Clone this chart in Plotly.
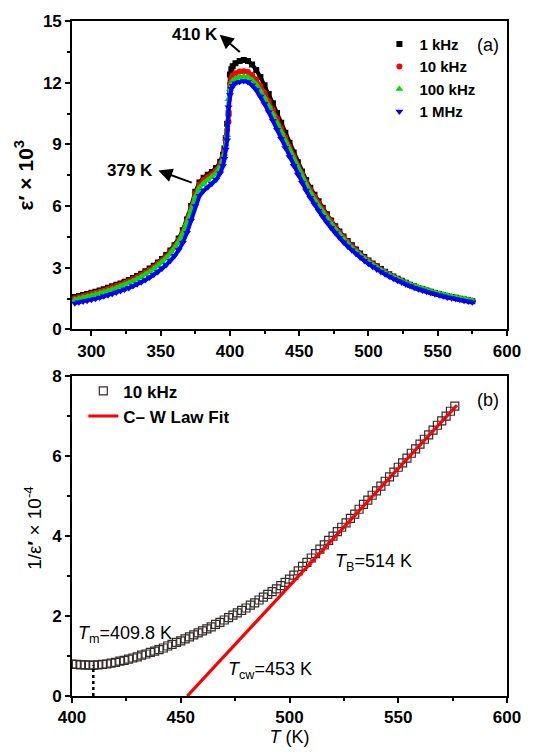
import plotly.graph_objects as go

# ---------------- panel (a): real permittivity vs temperature ----------------
T_a = [288, 291, 294, 297, 300, 303, 306, 309, 312, 315, 318, 321, 324, 327, 330,
       333, 336, 339, 342, 345, 348, 351, 354, 357, 360, 363, 366, 369, 372, 375,
       378, 381, 384, 387, 390, 393,
       395, 396, 397, 398, 399, 400, 401, 402,
       404, 407, 410, 413, 416, 419, 422, 425, 428, 431, 434, 437, 440, 443, 446,
       449, 452, 455, 458, 461, 464, 467, 470, 473, 476, 479, 482, 485, 488, 491,
       494, 497, 500, 503, 506, 509, 512, 515, 518, 521, 524, 527, 530, 533, 536,
       539, 542, 545, 548, 551, 554, 557, 560, 563, 566, 569, 572, 575]

eps_1kHz = [1.58, 1.63, 1.68, 1.73, 1.78, 1.84, 1.90, 1.96, 2.03, 2.10, 2.17, 2.24, 2.32, 2.41, 2.50,
            2.60, 2.71, 2.83, 2.96, 3.10, 3.26, 3.43, 3.62, 3.84, 4.10, 4.42, 4.82, 5.35, 6.00, 6.70,
            7.15, 7.38, 7.52, 7.66, 7.85, 8.15,
            8.50, 8.80, 9.30, 10.00, 10.50, 12.40, 12.65, 12.80,
            12.95, 13.06, 13.10, 13.05, 12.88, 12.62, 12.28, 11.88, 11.45, 11.00, 10.53, 10.05, 9.57, 9.08, 8.60,
            8.13, 7.68, 7.27, 6.89, 6.55, 6.23, 5.92, 5.60, 5.30, 5.02, 4.76, 4.52, 4.30, 4.09, 3.89,
            3.70, 3.52, 3.36, 3.21, 3.07, 2.94, 2.81, 2.69, 2.58, 2.47, 2.37, 2.27, 2.18, 2.10, 2.02,
            1.95, 1.89, 1.83, 1.77, 1.72, 1.67, 1.62, 1.58, 1.54, 1.50, 1.46, 1.42, 1.37]

eps_10kHz = [1.52, 1.57, 1.62, 1.67, 1.72, 1.78, 1.84, 1.90, 1.97, 2.04, 2.11, 2.18, 2.26, 2.35, 2.44,
             2.54, 2.65, 2.77, 2.90, 3.04, 3.20, 3.37, 3.56, 3.78, 4.04, 4.36, 4.76, 5.28, 5.92, 6.60,
             7.05, 7.27, 7.41, 7.55, 7.74, 8.05,
             8.40, 8.70, 9.20, 9.70, 10.10, 11.95, 12.20, 12.35,
             12.46, 12.54, 12.56, 12.52, 12.38, 12.15, 11.85, 11.50, 11.10, 10.68, 10.24, 9.79, 9.34, 8.88, 8.43,
             7.99, 7.57, 7.17, 6.80, 6.46, 6.14, 5.84, 5.54, 5.25, 4.98, 4.72, 4.48, 4.26, 4.05, 3.85,
             3.66, 3.49, 3.33, 3.18, 3.04, 2.91, 2.79, 2.67, 2.56, 2.46, 2.36, 2.27, 2.18, 2.10, 2.02,
             1.95, 1.89, 1.83, 1.77, 1.72, 1.67, 1.62, 1.58, 1.54, 1.50, 1.46, 1.42, 1.38]

eps_100kHz = [1.44, 1.49, 1.54, 1.59, 1.64, 1.70, 1.76, 1.82, 1.88, 1.95, 2.02, 2.09, 2.17, 2.26, 2.35,
              2.45, 2.56, 2.68, 2.81, 2.95, 3.11, 3.28, 3.47, 3.69, 3.95, 4.27, 4.67, 5.18, 5.80, 6.45,
              6.90, 7.12, 7.27, 7.42, 7.60, 7.92,
              8.25, 8.55, 9.00, 9.45, 11.20, 11.70, 11.95, 12.10,
              12.20, 12.28, 12.30, 12.26, 12.13, 11.91, 11.62, 11.27, 10.88, 10.46, 10.03, 9.59, 9.15, 8.70, 8.26,
              7.83, 7.42, 7.03, 6.67, 6.33, 6.02, 5.72, 5.43, 5.15, 4.89, 4.64, 4.41, 4.19, 3.99, 3.80,
              3.62, 3.45, 3.30, 3.15, 3.02, 2.89, 2.77, 2.66, 2.56, 2.46, 2.37, 2.28, 2.20, 2.12, 2.05,
              1.98, 1.92, 1.86, 1.80, 1.75, 1.70, 1.65, 1.61, 1.57, 1.53, 1.49, 1.45, 1.41]

eps_1MHz = [1.28, 1.32, 1.36, 1.40, 1.45, 1.50, 1.55, 1.61, 1.67, 1.73, 1.80, 1.87, 1.94, 2.02, 2.11,
            2.20, 2.30, 2.41, 2.53, 2.66, 2.80, 2.96, 3.14, 3.34, 3.57, 3.86, 4.22, 4.70, 5.30, 6.00,
            6.50, 6.75, 6.92, 7.08, 7.28, 7.60,
            7.95, 8.30, 8.75, 9.20, 10.80, 11.40, 11.70, 11.85,
            11.97, 12.05, 12.08, 12.03, 11.88, 11.64, 11.33, 10.97, 10.57, 10.15, 9.71, 9.27, 8.83, 8.39, 7.96,
            7.54, 7.14, 6.76, 6.41, 6.08, 5.77, 5.48, 5.20, 4.94, 4.69, 4.46, 4.24, 4.04, 3.85, 3.67,
            3.50, 3.34, 3.19, 3.05, 2.92, 2.80, 2.68, 2.57, 2.47, 2.37, 2.28, 2.19, 2.11, 2.03, 1.96,
            1.89, 1.83, 1.77, 1.71, 1.66, 1.61, 1.56, 1.52, 1.48, 1.44, 1.40, 1.36, 1.32]

freq_labels = ["1 kHz", "10 kHz", "100 kHz", "1 MHz"]
freq_colors = ["#000000", "#ff0000", "#00dd00", "#0000ff"]
freq_symbols = ["square", "circle", "triangle-up", "triangle-down"]
freq_sizes = [6, 6, 7, 7]

xticks_a = [300, 350, 400, 450, 500, 550, 600]
yticks_a = [0, 3, 6, 9, 12, 15]
xticks_b = [400, 450, 500, 550, 600]
yticks_b = [0, 2, 4, 6, 8]

# ---------------- panel (b): inverse permittivity at 10 kHz ----------------
T_b = [400, 402, 404, 406, 408, 410, 412, 414, 416, 418, 420, 422, 424, 426, 428,
       430, 432, 434, 436, 438, 440, 442, 444, 446, 448, 450, 452, 454, 456, 458,
       460, 462, 464, 466, 468, 470, 472, 474, 476, 478, 480, 482, 484, 486, 488,
       490, 492, 494, 496, 498, 500, 502, 504, 506, 508, 510, 512, 514, 516, 518,
       520, 522, 524, 526, 528, 530, 532, 534, 536, 538, 540, 542, 544, 546, 548,
       550, 552, 554, 556, 558, 560, 562, 564, 566, 568, 570, 572, 574, 576]
inv_eps_10kHz = [0.80, 0.79, 0.78, 0.78, 0.77, 0.77, 0.78, 0.79, 0.80, 0.82, 0.84, 0.87, 0.89, 0.92, 0.95,
                 0.98, 1.02, 1.05, 1.09, 1.12, 1.16, 1.20, 1.25, 1.29, 1.34, 1.38, 1.43, 1.48, 1.53, 1.58,
                 1.63, 1.68, 1.73, 1.79, 1.84, 1.90, 1.96, 2.02, 2.08, 2.14, 2.20, 2.27, 2.33, 2.40, 2.47,
                 2.54, 2.61, 2.68, 2.76, 2.84, 2.92, 3.02, 3.13, 3.24, 3.34, 3.45, 3.56, 3.67, 3.78, 3.89,
                 4.00, 4.11, 4.22, 4.33, 4.44, 4.55, 4.67, 4.79, 4.90, 5.02, 5.13, 5.25, 5.37, 5.48, 5.60,
                 5.72, 5.83, 5.95, 6.07, 6.18, 6.30, 6.42, 6.53, 6.65, 6.77, 6.88, 7.00, 7.12, 7.25]

T_m = 409.8          # temperature of permittivity maximum
T_cw = 453           # Curie-Weiss temperature
T_B = 514            # Burns temperature
fit_T = [T_cw, 577]
fit_inv = [0.0, 7.27]

FONT = "Liberation Sans, Arial, sans-serif"

fig = go.Figure()

# dense measurement points: a thick trace in the series colour runs under the markers
for lab, col, sym, sz, ys in zip(freq_labels, freq_colors, freq_symbols, freq_sizes,
                                 [eps_1kHz, eps_10kHz, eps_100kHz, eps_1MHz]):
    fig.add_trace(go.Scatter(
        x=T_a, y=ys, mode="lines", showlegend=False, hoverinfo="skip",
        line=dict(color=col, width=4), xaxis="x", yaxis="y"))
    fig.add_trace(go.Scatter(
        x=T_a, y=ys, mode="markers", name=lab, legend="legend",
        marker=dict(symbol=sym, size=sz, color=col, line=dict(width=0)),
        xaxis="x", yaxis="y"))

fig.add_trace(go.Scatter(
    x=T_b, y=inv_eps_10kHz, mode="markers", name="10 kHz", legend="legend2",
    marker=dict(symbol="square-open", size=8, color="#352b2b", line=dict(width=1.2)),
    xaxis="x2", yaxis="y2"))

fig.add_trace(go.Scatter(
    x=fit_T, y=fit_inv, mode="lines", name="C\u2013 W Law Fit", legend="legend2",
    line=dict(color="#ff0000", width=3.2), xaxis="x2", yaxis="y2"))

fig.add_trace(go.Scatter(
    x=[T_m, T_m], y=[0, min(inv_eps_10kHz)], mode="lines", showlegend=False,
    line=dict(color="#000000", width=2.5, dash="dot"), xaxis="x2", yaxis="y2"))


def bold_ticks(vals):
    return dict(tickmode="array", tickvals=vals, ticktext=[f"<b>{v}</b>" for v in vals])


axis_common = dict(showgrid=False, zeroline=False, showline=True, linewidth=1.6,
                   linecolor="black", mirror=True, ticks="outside", ticklen=5,
                   tickwidth=1.6, tickcolor="black",
                   tickfont=dict(family=FONT, size=17, color="black", weight="bold"))


def minor(t0, dt):
    return dict(ticks="outside", ticklen=3, tickwidth=1.6, tick0=t0, dtick=dt,
                tickcolor="black", showgrid=False)


fig.update_layout(
    width=533, height=754,
    paper_bgcolor="white", plot_bgcolor="white",
    margin=dict(l=71.5, r=24, t=18, b=57),
    font=dict(family=FONT, color="black"),
    xaxis=dict(domain=[0, 1], range=[286, 600], anchor="y", minor=minor(300, 25),
               **bold_ticks(xticks_a), **axis_common),
    yaxis=dict(domain=[0.543, 1], range=[0, 15], anchor="x", minor=minor(0, 1.5),
               title=dict(text="<b>\u03b5\u2032 \u00d7 10<sup>3</sup></b>",
                          font=dict(family=FONT, size=21, color="black"), standoff=4),
               **bold_ticks(yticks_a), **axis_common),
    xaxis2=dict(domain=[0, 1], range=[400, 600], anchor="y2", minor=minor(400, 25),
                title=dict(text="<i>T</i> (K)", font=dict(family=FONT, size=18), standoff=2),
                **bold_ticks(xticks_b), **axis_common),
    yaxis2=dict(domain=[0, 0.474], range=[0, 8], anchor="x2", minor=minor(0, 1),
                **bold_ticks(yticks_b), **axis_common),
    legend=dict(x=0.7067, y=0.99, xanchor="left", yanchor="top",
                bgcolor="rgba(0,0,0,0)", borderwidth=0,
                font=dict(family=FONT, size=15, color="black", weight="bold")),
    legend2=dict(x=0.026, y=0.478, xanchor="left", yanchor="top",
                 bgcolor="rgba(0,0,0,0)", borderwidth=0,
                 font=dict(family=FONT, size=17, color="black", weight="bold")),
)

peak_i = eps_1kHz.index(max(eps_1kHz))
annotations = [
    # y-axis title of the lower panel
    dict(text="1/\u03b5<b>\u2032</b> \u00d7 10<sup>-4</sup>", xref="paper", yref="paper",
         x=-0.09, y=0.249, xanchor="center", yanchor="middle", textangle=-90,
         showarrow=False, font=dict(family=FONT, size=19, color="black")),
    # panel tags
    dict(text="(a)", x=586.4, y=13.85, xref="x", yref="y", showarrow=False,
         font=dict(family=FONT, size=18, color="black")),
    dict(text="(b)", x=591.3, y=7.40, xref="x2", yref="y2", showarrow=False,
         font=dict(family=FONT, size=18, color="black")),
    # peak labels with arrows
    dict(text="<b>410 K</b>", x=374.6, y=14.33, xref="x", yref="y", showarrow=False,
         font=dict(family=FONT, size=17, color="black")),
    dict(text=" ", x=392.6, y=14.33, xref="x", yref="y",
         ax=T_a[peak_i] - 0.7, ay=eps_1kHz[peak_i] + 0.27, axref="x", ayref="y",
         showarrow=True, arrowhead=2, arrowsize=1.4, arrowwidth=2, arrowcolor="black"),
    dict(text="<b>379 K</b>", x=328.0, y=7.73, xref="x", yref="y", showarrow=False,
         font=dict(family=FONT, size=17, color="black")),
    dict(text=" ", x=348.3, y=7.73, xref="x", yref="y",
         ax=374.6, ay=7.09, axref="x", ayref="y",
         showarrow=True, arrowhead=2, arrowsize=1.4, arrowwidth=2, arrowcolor="black"),
    # characteristic temperatures
    dict(text=f"<i>T</i><sub>m</sub>={T_m} K", x=424.5, y=1.54, xref="x2", yref="y2",
         showarrow=False, font=dict(family=FONT, size=18, color="black")),
    dict(text=f"<i>T</i><sub>cw</sub>={T_cw} K", x=491.0, y=0.63, xref="x2", yref="y2",
         showarrow=False, font=dict(family=FONT, size=18, color="black")),
    dict(text=f"<i>T</i><sub>B</sub>={T_B} K", x=538.7, y=3.35, xref="x2", yref="y2",
         showarrow=False, font=dict(family=FONT, size=18, color="black")),
]
fig.update_layout(annotations=annotations)

fig.write_html("out.html")
